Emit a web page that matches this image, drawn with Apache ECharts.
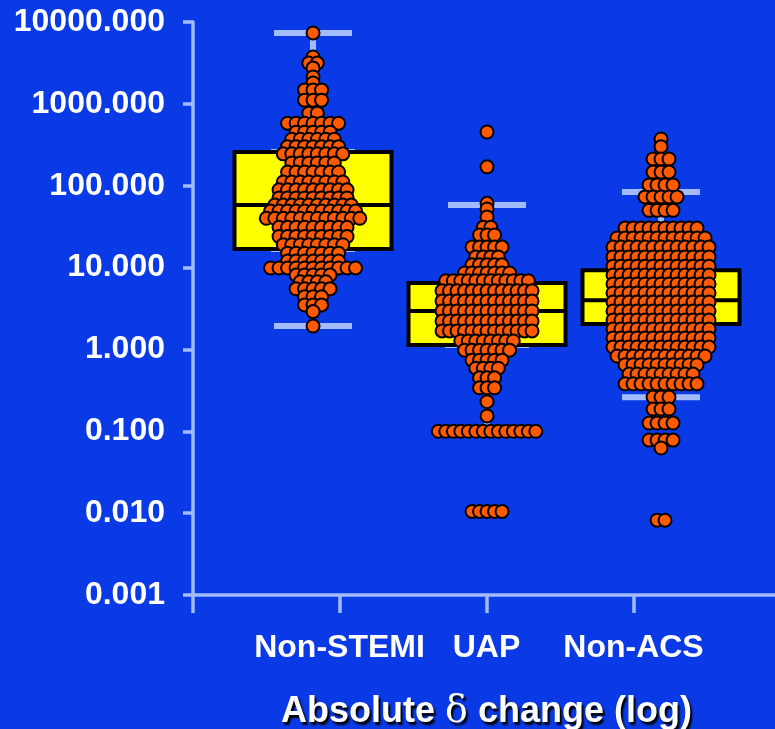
<!DOCTYPE html>
<html><head><meta charset="utf-8">
<script src="https://cdn.jsdelivr.net/npm/echarts@6/dist/echarts.min.js"></script>
<style>html,body{margin:0;padding:0;background:#0a3ae6;}#c{width:775px;height:729px;}</style>
</head><body><div id="c"></div>
<script>
// ---- data ----
const categories = ['Non-STEMI', 'UAP', 'Non-ACS'];
// box stats: [min, Q1, median, Q3, max]
const boxNstemi = [1.93, 16.9, 58, 258, 7350];
const boxUap = [0.1, 1.13, 2.95, 6.5, 58];
const boxNonAcs = [0.26, 2.05, 4.0, 9.3, 84];
// dot rows: value and number of dots in that row
const nstemiValues = [7350, 3740, 3150, 2740, 2130, 1800, 1480, 1110, 770, 580, 450, 370, 300, 245, 190, 147, 111, 89, 71, 58, 49, 40, 31, 24, 19, 15, 12, 9.9, 8.1, 6.7, 5.5, 4.4, 3.5, 2.9, 1.93];
const nstemiCounts = [1, 1, 2, 1, 1, 1, 3, 3, 2, 7, 5, 6, 7, 8, 6, 7, 8, 9, 9, 10, 11, 12, 9, 9, 8, 7, 7, 11, 5, 4, 5, 3, 3, 1, 1];
const uapValues = [453, 170, 61, 52, 41.5, 31, 25, 17.8, 13.5, 10.8, 8.6, 6.9, 5.2, 3.9, 2.95, 2.22, 1.68, 1.27, 0.98, 0.74, 0.59, 0.45, 0.34, 0.23, 0.154, 0.1, 0.0105];
const uapCounts = [1, 1, 1, 1, 1, 2, 3, 5, 4, 5, 7, 12, 13, 13, 13, 13, 13, 8, 7, 5, 4, 3, 3, 1, 1, 14, 5];
const nonAcsValues = [372, 300, 212, 147, 102, 73, 50, 30.4, 23, 17.8, 13.5, 10.4, 8.1, 6.3, 4.9, 3.8, 2.95, 2.29, 1.78, 1.38, 1.07, 0.83, 0.65, 0.5, 0.38, 0.262, 0.187, 0.126, 0.078, 0.0625, 0.0082];
const nonAcsCounts = [1, 1, 3, 3, 4, 5, 4, 10, 12, 13, 13, 13, 13, 13, 13, 13, 13, 13, 13, 13, 13, 12, 10, 9, 10, 3, 3, 4, 4, 1, 2];

// ---- styling ----
const BG = '#0a3ae6';
const AX = '#a2bcff';
const FONT = 'Liberation Sans';
const xMin = 0.31, xMax = 3.655;
const shadow = {textShadowColor: '#000', textShadowOffsetX: 2, textShadowOffsetY: 3, textShadowBlur: 2};
const g = (left, right) => ({left: left, right: right, top: 22, bottom: 134, containLabel: false, outerBoundsMode: 'none'});

const chart = echarts.init(document.getElementById('c'), null, {renderer: 'canvas'});

function opt(scatterData) {
  return {
    backgroundColor: BG,
    animation: false,
    grid: [g(193, 0), g(226, 27), g(266, 68), g(226, 27)],
    xAxis: [
      {gridIndex: 0, type: 'value', min: xMin, max: xMax, interval: 100,
        axisLine: {show: true, onZero: false, lineStyle: {color: AX, width: 3.5}},
        axisTick: {show: true, inside: false, length: 18, customValues: [xMin], lineStyle: {color: AX, width: 3.5}},
        axisLabel: {show: false}, splitLine: {show: false}},
      {gridIndex: 1, type: 'category', data: categories, show: false, axisLine: {onZero: false}},
      {gridIndex: 2, type: 'category', data: categories, position: 'bottom',
        axisLine: {show: false, onZero: false},
        axisTick: {show: true, inside: false, alignWithLabel: true, length: 18, lineStyle: {color: AX, width: 3.5}},
        axisLabel: {interval: 0, inside: false, color: '#ffffff', fontSize: 32, fontWeight: 'bold', fontFamily: FONT, margin: 37},
        name: '{a|Absolute }{d|δ}{a| change (log)}', nameLocation: 'middle', nameGap: 98,
        nameTextStyle: {
          color: '#ffffff', fontSize: 36, fontWeight: 'bold', fontFamily: FONT,
          rich: {
            a: Object.assign({color: '#ffffff', fontSize: 36, fontWeight: 'bold', fontFamily: FONT}, shadow),
            d: Object.assign({color: '#ffffff', fontSize: 38, fontWeight: 'normal', fontFamily: 'DejaVu Serif'}, shadow)
          }
        }},
      {gridIndex: 3, type: 'category', data: categories, show: false, axisLine: {onZero: false}}
    ],
    yAxis: [
      {gridIndex: 0, type: 'log', logBase: 10, min: 0.001, max: 10000,
        axisLine: {show: true, onZero: false, lineStyle: {color: AX, width: 3.5}},
        axisTick: {show: true, inside: false, length: 10, lineStyle: {color: AX, width: 3.5}},
        axisLabel: {color: '#ffffff', fontSize: 32, fontWeight: 'bold', fontFamily: FONT, margin: 28,
          formatter: v => Number(v).toFixed(3)},
        splitLine: {show: false}},
      {gridIndex: 1, type: 'log', logBase: 10, min: 0.001, max: 10000, show: false},
      {gridIndex: 2, type: 'value', min: 0, max: 1, show: false},
      {gridIndex: 3, type: 'log', logBase: 10, min: 0.001, max: 10000, show: false}
    ],
    series: [
      {type: 'boxplot', xAxisIndex: 3, yAxisIndex: 3, boxWidth: [78, 78], silent: true, z: 2,
        itemStyle: {color: 'rgba(0,0,0,0)', borderColor: AX, borderWidth: 6},
        emphasis: {disabled: true},
        data: [boxNstemi, boxUap, boxNonAcs]},
      {type: 'boxplot', xAxisIndex: 1, yAxisIndex: 1, boxWidth: [157, 157], silent: true, z: 3,
        itemStyle: {color: '#ffff00', borderColor: '#000000', borderWidth: 4},
        emphasis: {disabled: true},
        data: [boxNstemi, boxUap, boxNonAcs].map(b => [b[1], b[1], b[2], b[3], b[3]])},
      {type: 'scatter', xAxisIndex: 0, yAxisIndex: 0, z: 4, symbol: 'circle', symbolSize: 13, silent: true,
        itemStyle: {color: '#ff5a00', borderColor: '#000000', borderWidth: 2, opacity: 1},
        data: scatterData}
    ]
  };
}

chart.setOption(opt([]));
const pxPerUnit = chart.convertToPixel({xAxisIndex: 0}, 2) - chart.convertToPixel({xAxisIndex: 0}, 1);

function swarm(center, values, counts, step) {
  const pts = [];
  values.forEach((v, r) => {
    const n = counts[r];
    for (let i = 0; i < n; i++) {
      const off = (i - (n - 1) / 2) * step;
      pts.push([center + off / pxPerUnit, v]);
    }
  });
  return pts;
}
const allPts = [].concat(
  swarm(1, nstemiValues, nstemiCounts, 8.5),
  swarm(2, uapValues, uapCounts, 7.5),
  swarm(3, nonAcsValues, nonAcsCounts, 8.0)
);
chart.setOption(opt(allPts));
</script></body></html>
